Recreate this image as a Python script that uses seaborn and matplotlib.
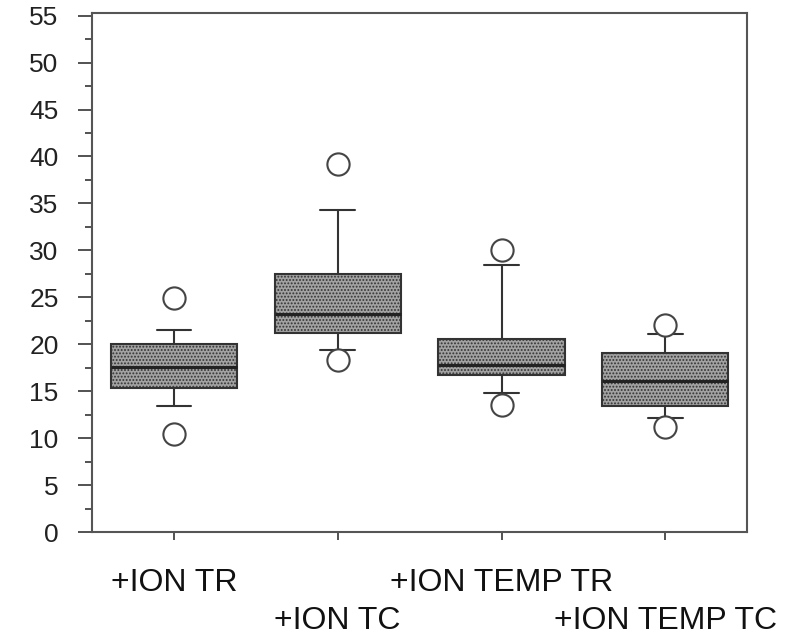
import matplotlib
matplotlib.use("Agg")
import matplotlib.pyplot as plt
from matplotlib.ticker import MultipleLocator
import pandas as pd
import seaborn as sns

# box summary
groups = ["+ION TR", "+ION TC", "+ION TEMP TR", "+ION TEMP TC"]
q1 = [15.4, 21.2, 16.7, 13.4]
median = [17.6, 23.2, 17.8, 16.1]
q3 = [20.0, 27.5, 20.6, 19.1]
whisker_low = [13.4, 19.4, 14.8, 12.2]
whisker_high = [21.5, 34.3, 28.4, 21.1]
outlier_low = [10.5, 18.3, 13.5, 11.2]
outlier_high = [24.9, 39.2, 30.1, 22.1]

# long table: each group holds its summary values (quartiles doubled so the
# 25/50/75 percentiles land on them, whiskers at the 12.5/87.5 percentiles)
rows = []
for i, g in enumerate(groups):
    vals = [outlier_low[i], whisker_low[i], q1[i], q1[i], median[i],
            q3[i], q3[i], whisker_high[i], outlier_high[i]]
    for v in vals:
        rows.append({"group": g, "value": v})
df = pd.DataFrame(rows)

sns.set_style("ticks")
plt.rcParams["font.family"] = ["Liberation Sans", "DejaVu Sans"]
plt.rcParams["hatch.linewidth"] = 0.9

fig = plt.figure(figsize=(7.85, 6.36), dpi=100)
ax = fig.add_axes([0.117, 0.163, 0.835, 0.817])

sns.boxplot(data=df, x="group", y="value", order=groups, ax=ax,
            whis=(12.5, 87.5), width=0.77, color="#a2a2a2", saturation=1,
            linecolor="#333333", linewidth=1.5,
            capwidths=0.21,
            medianprops=dict(color="#222222", linewidth=2.2),
            flierprops=dict(marker="o", markersize=16, markerfacecolor="white",
                            markeredgecolor="#444444", markeredgewidth=1.5))

for patch in ax.patches:
    patch.set_hatch(".....")

ax.set_ylim(0, 55.3)
ax.set_xlim(-0.5, 3.5)
ax.yaxis.set_major_locator(MultipleLocator(5))
ax.yaxis.set_minor_locator(MultipleLocator(2.5))
ax.set_xlabel("")
ax.set_ylabel("")

for side in ["left", "right", "top", "bottom"]:
    ax.spines[side].set_visible(True)
    ax.spines[side].set_color("#555555")
    ax.spines[side].set_linewidth(1.5)

ax.tick_params(axis="y", which="major", direction="out", length=10, width=1.3,
               color="#444444", labelsize=19, pad=14, labelcolor="#222222")
ax.tick_params(axis="y", which="minor", direction="out", length=5, width=1.3,
               color="#444444")
ax.tick_params(axis="x", direction="out", length=6, width=1.3, color="#444444",
               labelsize=23, labelcolor="#111111")

# staggered category labels
for i, tick in enumerate(ax.xaxis.get_major_ticks()):
    tick.set_pad(20 if i % 2 == 0 else 47)

fig.savefig("out.png", dpi=100)
